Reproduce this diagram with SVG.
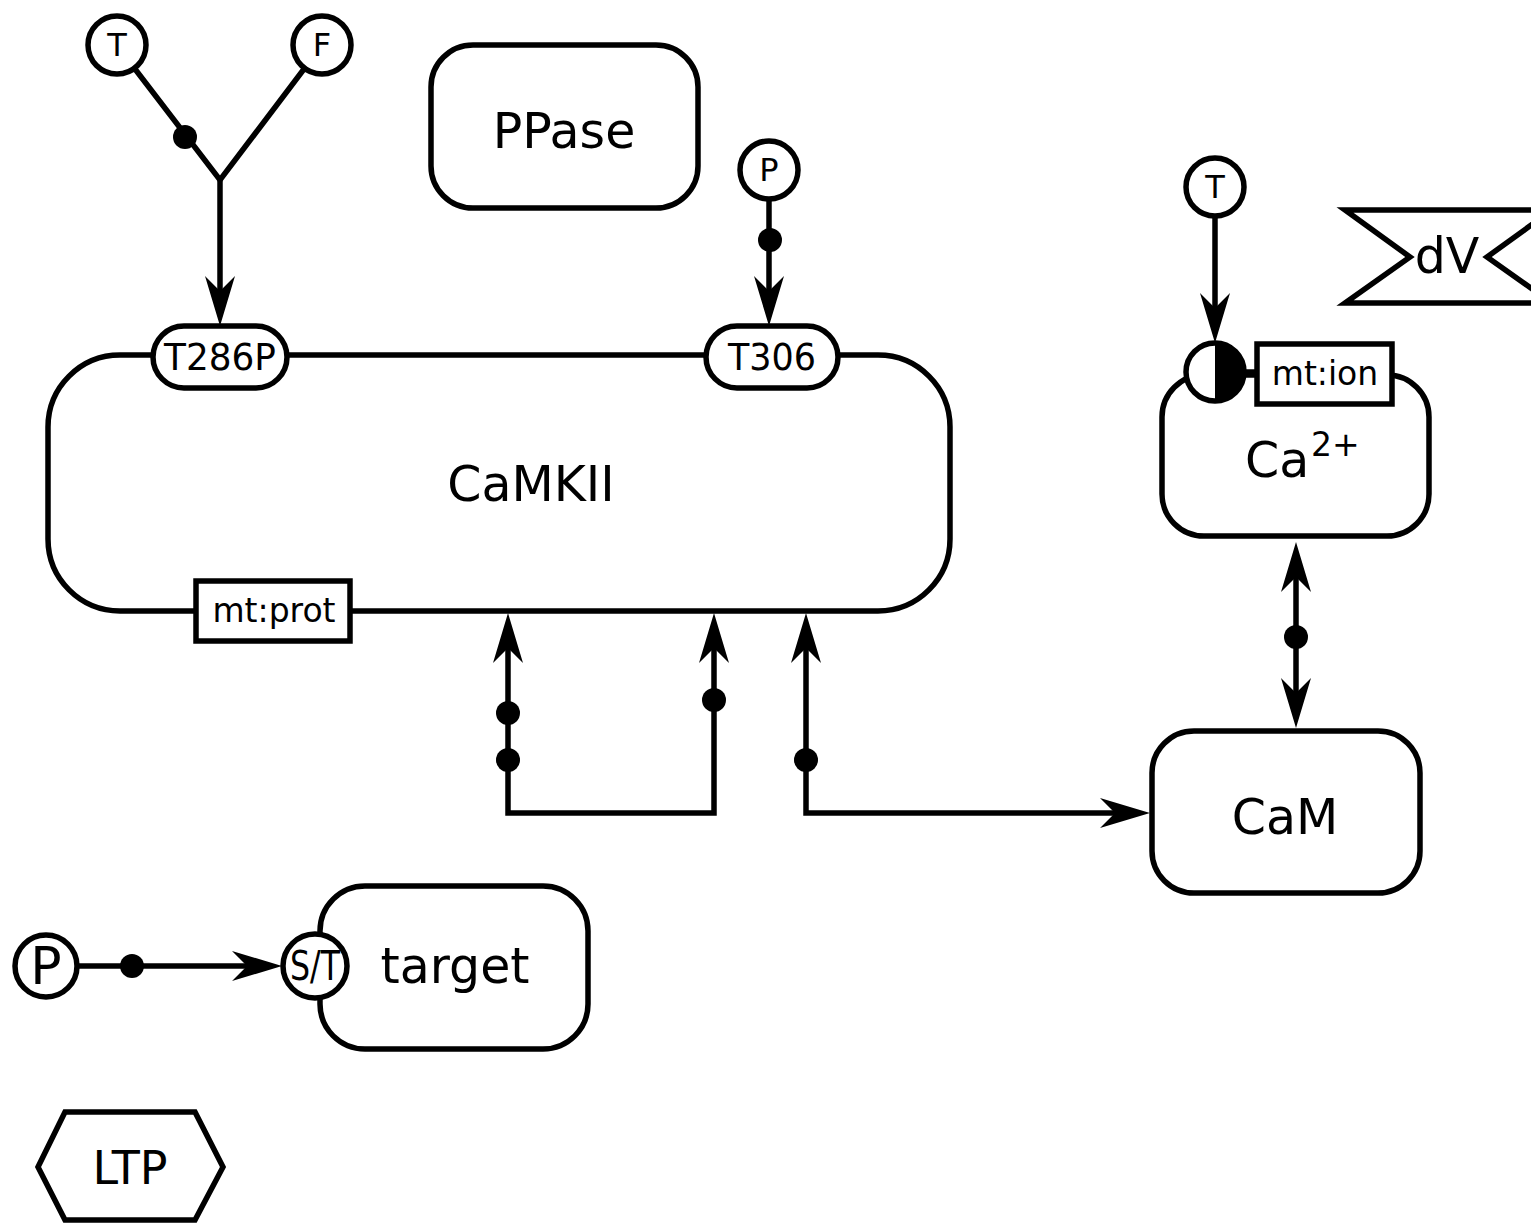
<svg xmlns="http://www.w3.org/2000/svg" width="1531" height="1225" viewBox="0 0 1531 1225">
<style>
.s{fill:#fff;stroke:#000;stroke-width:5.5}
.l{fill:none;stroke:#000;stroke-width:5.5}
.d{fill:#000}
text{font-family:"DejaVu Sans","Liberation Sans",sans-serif;fill:#000;text-anchor:middle;dominant-baseline:central}
.big{font-size:49px}
.mid{font-size:33px}
.sm{font-size:32px}
</style>
<defs>
<marker id="ah" viewBox="-52 -17 54 34" markerWidth="54" markerHeight="34" refX="-30" refY="0" markerUnits="userSpaceOnUse" orient="auto-start-reverse">
<path d="M0,0 L-50,-15 L-35,0 L-50,15 Z" fill="#000"/>
</marker>
</defs>
<rect width="1531" height="1225" fill="#fff"/>

<g id="connectors">
<path class="l" d="M135,69 L220,180 L304,69"/>
<path class="l" d="M220,180 L220,296" marker-end="url(#ah)"/>
<circle class="d" cx="185" cy="137" r="12"/>
<path class="l" d="M769,199 L769,296" marker-end="url(#ah)"/>
<circle class="d" cx="770" cy="240" r="12"/>
<path class="l" d="M1215,216 L1215,313" marker-end="url(#ah)"/>
<path class="l" d="M508,643 L508,813 L714,813 L714,643" marker-start="url(#ah)" marker-end="url(#ah)"/>
<circle class="d" cx="508" cy="713" r="12"/>
<circle class="d" cx="508" cy="760" r="12"/>
<circle class="d" cx="714" cy="700" r="12"/>
<path class="l" d="M806,643 L806,813 L1120,813" marker-start="url(#ah)" marker-end="url(#ah)"/>
<circle class="d" cx="806" cy="760" r="12"/>
<path class="l" d="M1296,572 L1296,698" marker-start="url(#ah)" marker-end="url(#ah)"/>
<circle class="d" cx="1296" cy="637" r="12"/>
<path class="l" d="M78,966 L252,966" marker-end="url(#ah)"/>
<circle class="d" cx="132" cy="966" r="12"/>
</g>

<g id="T1"><circle class="s" cx="117" cy="45" r="29"/><text class="sm" x="117" y="45">T</text></g>
<g id="F1"><circle class="s" cx="322" cy="45" r="29"/><text class="sm" x="322" y="45">F</text></g>
<g id="PPase"><rect class="s" x="431" y="45" width="267" height="163" rx="42"/><text class="big" x="564" y="131">PPase</text></g>
<g id="P1"><circle class="s" cx="769" cy="170" r="29"/><text class="sm" x="769" y="170">P</text></g>

<g id="CaMKII">
<rect class="s" x="48" y="355" width="902" height="256" rx="72"/>
<text class="big" x="531" y="484">CaMKII</text>
<g id="T286P"><rect class="s" x="153" y="326" width="134" height="62" rx="31"/><text x="220" y="357" font-size="38" textLength="112" lengthAdjust="spacingAndGlyphs">T286P</text></g>
<g id="T306"><rect class="s" x="706" y="326" width="132" height="62" rx="31"/><text x="772" y="357" font-size="38" textLength="88" lengthAdjust="spacingAndGlyphs">T306</text></g>
<g id="mtprot"><rect class="s" x="196" y="581" width="154" height="60"/><text class="mid" x="274" y="610">mt:prot</text></g>
</g>

<g id="T2"><circle class="s" cx="1215" cy="187" r="29"/><text class="sm" x="1215" y="187">T</text></g>

<g id="dV"><polygon class="s" points="1345,210 1552,210 1487,257 1552,303 1345,303 1410,257"/><text class="big" x="1447" y="256">dV</text></g>

<g id="Ca">
<rect class="s" x="1162" y="375" width="267" height="161" rx="42"/>
<path class="l" d="M1244,372 L1257,372"/>
<circle cx="1215" cy="372" r="29" fill="#fff"/>
<path d="M1215,343 A29,29 0 0 1 1215,401 Z" fill="#000"/>
<circle cx="1215" cy="372" r="29" class="l"/>
<rect class="s" x="1257" y="344" width="135" height="60"/>
<text class="mid" x="1325" y="373">mt:ion</text>
<text x="1245" y="477" font-size="49" style="text-anchor:start;dominant-baseline:alphabetic">Ca</text>
<text x="1311" y="456" font-size="33" style="text-anchor:start;dominant-baseline:alphabetic">2+</text>
</g>

<g id="CaM"><rect class="s" x="1152" y="731" width="268" height="162" rx="42"/><text class="big" x="1285" y="817">CaM</text></g>

<g id="P2"><circle class="s" cx="46" cy="966" r="31"/><text x="46" y="966" font-size="52">P</text></g>
<g id="target">
<rect class="s" x="320" y="886" width="268" height="163" rx="45"/>
<circle class="s" cx="315" cy="966" r="32"/>
<text x="315" y="966" font-size="40" textLength="50" lengthAdjust="spacingAndGlyphs">S/T</text>
<text class="big" x="455" y="966">target</text>
</g>

<g id="LTP"><polygon class="s" points="38,1167 65,1112 195,1112 223,1167 195,1220 65,1220"/><text x="130" y="1168" font-size="46">LTP</text></g>
</svg>
